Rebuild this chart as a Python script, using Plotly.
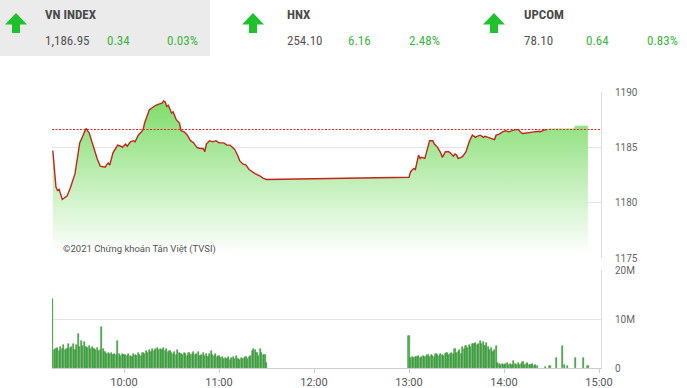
import pandas as pd
import plotly.graph_objects as go

DAY = "2021-03-01 "

# ---------------- header data ----------------
idx_names = ["VN INDEX", "HNX", "UPCOM"]
idx_values = ["1,186.95", "254.10", "78.10"]
idx_changes = ["0.34", "6.16", "0.64"]
idx_pcts = ["0.03%", "2.48%", "0.83%"]

# ---------------- price line data ----------------
price_times = ["09:15", "09:17", "09:18", "09:19", "09:21", "09:24", "09:26", "09:29", "09:32", "09:34",
               "09:36", "09:38", "09:41", "09:43", "09:45", "09:48", "09:50", "09:51", "09:53", "09:55",
               "09:56", "09:58", "09:59", "10:01", "10:02", "10:04", "10:06", "10:07", "10:09", "10:11",
               "10:12", "10:13", "10:15", "10:16", "10:18", "10:20", "10:22", "10:24", "10:25", "10:26",
               "10:27", "10:28", "10:30", "10:31", "10:33", "10:35", "10:36", "10:38", "10:40", "10:42",
               "10:44", "10:46", "10:48", "10:50", "10:51", "10:52", "10:54", "10:56", "10:58", "11:00",
               "11:03", "11:05", "11:07", "11:09", "11:10", "11:12", "11:13", "11:15", "11:17", "11:19",
               "11:21", "11:23", "11:26", "11:28", "11:30",
               "13:00", "13:01", "13:03", "13:04", "13:05", "13:06", "13:07", "13:08", "13:10", "13:12",
               "13:13", "13:15", "13:16", "13:18", "13:20", "13:21", "13:23", "13:25", "13:26", "13:28",
               "13:29", "13:30", "13:31", "13:33", "13:34", "13:36", "13:38", "13:40", "13:42", "13:43",
               "13:45", "13:47", "13:48", "13:50", "13:52", "13:54", "13:55", "13:57", "13:59", "14:01",
               "14:03", "14:05", "14:07", "14:09", "14:11", "14:12", "14:14", "14:17", "14:19", "14:22",
               "14:23", "14:25", "14:27"]
price_values = [1184.7, 1181.4, 1181.1, 1181.2, 1180.3, 1180.6, 1181.3, 1182.6, 1185.4, 1186.1,
                1186.7, 1186.3, 1184.9, 1184.0, 1183.3, 1183.2, 1183.6, 1183.4, 1184.5, 1184.9,
                1185.2, 1185.1, 1185.0, 1185.3, 1185.1, 1185.5, 1185.6, 1185.5, 1186.1, 1186.4,
                1186.6, 1187.2, 1187.9, 1188.4, 1188.6, 1188.8, 1188.9, 1189.0, 1189.2, 1189.1,
                1188.7, 1188.8, 1188.1, 1188.2, 1187.5, 1187.2, 1186.5, 1186.4, 1186.1, 1185.6,
                1185.4, 1185.0, 1184.9, 1184.9, 1184.6, 1185.3, 1185.6, 1185.5, 1185.6, 1185.4,
                1185.4, 1185.2, 1185.2, 1184.9, 1184.8, 1184.2, 1183.8, 1183.5, 1183.4, 1183.0,
                1182.8, 1182.6, 1182.4, 1182.2, 1182.1,
                1182.3, 1182.8, 1183.1, 1183.0, 1183.8, 1184.3, 1184.0, 1184.1, 1184.0, 1185.0,
                1185.6, 1185.6, 1185.3, 1185.0, 1184.5, 1184.1, 1184.6, 1184.6, 1184.5, 1184.2,
                1184.4, 1184.3, 1184.0, 1184.1, 1184.2, 1184.6, 1185.5, 1186.1, 1185.9, 1186.0,
                1186.1, 1185.9, 1186.0, 1185.9, 1185.8, 1185.7, 1186.1, 1186.2, 1186.4, 1186.5,
                1186.4, 1186.5, 1186.6, 1186.6, 1186.3, 1186.25, 1186.3, 1186.4, 1186.4, 1186.45,
                1186.4, 1186.55, 1186.6]
# area continues (no line) until the close
fill_ext_times = ["14:28", "14:44", "14:45", "14:53"]
fill_ext_values = [1186.7, 1186.7, 1186.95, 1186.95]
ref_price = 1186.61

# ---------------- volume data (millions) ----------------
vol_am_start = "09:15"
vol_am = [14.1,
          3.6, 3.9, 4.1, 3.5, 4.3, 3.8, 4.7, 3.6, 3.9, 4.8, 4.0, 4.2, 4.9, 3.7, 4.6,
          7.0, 4.2, 5.6, 4.4, 5.3,
          4.3, 4.0, 4.5, 3.9, 4.2, 3.8, 3.6, 4.1, 3.4, 3.7,
          8.3,
          3.8, 3.3, 2.9, 3.1, 2.8, 3.0, 2.6, 2.9, 2.7,
          5.5,
          2.8, 2.5, 2.9, 2.6,
          2.7, 2.4, 2.8, 2.5, 2.3, 2.9, 2.6, 2.4, 3.0, 2.7, 2.5, 3.1, 2.8, 3.4, 3.0, 3.6, 3.2, 3.9, 3.5, 3.8,
          4.0, 3.6, 3.9, 3.7, 4.1, 3.5, 3.8, 3.2, 3.4, 3.0, 2.8, 3.2, 2.7, 3.6, 3.1,
          2.9, 2.6, 3.0, 2.8, 2.5, 3.1, 2.7, 2.9, 3.3, 2.6, 2.8, 3.2, 2.4, 2.7, 3.0, 2.5, 2.8, 2.3, 2.9, 3.5,
          2.6, 2.4, 2.8, 2.2, 2.5,
          2.0, 2.2, 1.8, 2.1, 1.9, 2.3, 1.7, 2.0, 2.2, 1.8, 2.4, 1.9, 1.7, 2.1, 1.8, 2.0, 2.3, 1.9, 2.2, 2.5,
          3.4, 3.9, 3.6, 3.1, 2.5, 3.8, 3.0, 2.7, 2.6, 1.0]
vol_pm_start = "13:00"
vol_pm = [6.6,
          2.0, 2.2, 2.1, 2.3, 2.2, 2.4, 2.1, 2.3, 2.5, 2.2,
          2.4, 2.6, 2.3, 2.7, 2.5, 2.2, 2.8, 2.6, 2.4, 2.9, 2.7, 2.5, 2.8, 3.0, 2.6,
          2.9, 3.1, 2.8, 3.9, 3.0, 3.3, 3.6, 2.9, 4.2, 3.8,
          4.4, 4.1, 4.7, 4.3, 5.0, 4.8, 5.2, 4.6, 5.0, 5.6, 4.9, 5.3, 4.5, 5.1, 4.2, 3.6, 4.0, 3.3, 3.7, 4.4,
          1.0, 0.8, 0.7, 0.9, 0.6, 0.8, 1.1, 0.7, 0.9, 0.6, 1.4, 0.8, 0.7, 1.0, 0.6, 0.9, 1.2, 0.7, 0.8, 1.0,
          0.6, 0.7, 0.9, 0.5, 0.6, 0.4]
vol_late_times = ["14:26", "14:29", "14:33", "14:37", "14:38", "14:40", "14:45", "14:50", "14:53"]
vol_late = [0.3, 0.4, 2.0, 4.4, 0.6, 0.5, 2.0, 2.0, 0.5]

copyright_text = "©2021 Chứng khoán Tân Việt (TVSI)"

# ---------------- build series ----------------
def ts(hm):
    return pd.Timestamp(DAY + hm)

p_x = [ts(t) for t in price_times]
f_x = p_x + [ts(t) for t in fill_ext_times]
f_y = price_values + fill_ext_values

v_x = list(pd.date_range(ts(vol_am_start), periods=len(vol_am), freq="min")) + \
      list(pd.date_range(ts(vol_pm_start), periods=len(vol_pm), freq="min")) + \
      [ts(t) for t in vol_late_times]
v_y = [v * 1e6 for v in vol_am + vol_pm + vol_late]

W, H = 687, 388
def px(x):
    return x / W
def py(y):
    return 1 - y / H

GREEN_TXT = "#3bb53b"
GRAY_TXT = "#555555"
ARROW = "#1fc12c"
GRID = "#e3e3e3"

x_range = [DAY + "09:14:30", DAY + "15:01:15"]
xdom = [px(52), px(601)]

fig = go.Figure()

fig.add_trace(go.Scatter(
    x=f_x, y=f_y, mode="lines", line=dict(width=0, color="rgba(0,0,0,0)"),
    fill="tozeroy",
    fillgradient=dict(type="vertical", start=1175.3, stop=1189.3,
                      colorscale=[[0, "rgba(255,255,255,1)"], [1, "rgb(125,220,105)"]]),
    xaxis="x2", yaxis="y2", hoverinfo="skip", showlegend=False))

# reference (previous close) line
fig.add_trace(go.Scatter(
    x=x_range, y=[ref_price, ref_price], mode="lines",
    line=dict(width=1.2, color="#e3261b", dash="2px,1.5px"),
    xaxis="x2", yaxis="y2", hoverinfo="skip", showlegend=False))

fig.add_trace(go.Scatter(
    x=p_x, y=price_values, mode="lines", line=dict(width=1.4, color="#c0261c"),
    xaxis="x2", yaxis="y2", showlegend=False))

fig.add_trace(go.Bar(
    x=v_x, y=v_y, width=45000,
    marker=dict(color="#55b855", line=dict(color="#2f8a2f", width=0.6)),
    xaxis="x", yaxis="y", showlegend=False))

fig.update_layout(
    autosize=True, margin=dict(l=0, r=0, t=0, b=0, autoexpand=False),
    paper_bgcolor="white", plot_bgcolor="white",
    font=dict(family="Roboto, Arial, sans-serif", color=GRAY_TXT),
    bargap=0,
    xaxis=dict(domain=xdom, range=x_range, type="date", anchor="y",
               tickformat="%H:%M", tick0=DAY + "10:00", dtick=3600000,
               showgrid=False, showline=True, linecolor="#cccccc", linewidth=1,
               ticks="outside", ticklen=4, tickcolor="#cccccc",
               tickfont=dict(size=11, color=GRAY_TXT), zeroline=False),
    yaxis=dict(domain=[py(368), py(270)], range=[0, 20e6], side="right", anchor="x",
               tickvals=[0, 10e6, 20e6], ticktext=["0", "10M", "20M"],
               showgrid=True, gridcolor=GRID, showline=True, linecolor="#dddddd",
               ticks="", ticklabelstandoff=11, zeroline=False,
               tickfont=dict(size=10, color="#666666")),
    xaxis2=dict(domain=xdom, range=x_range, type="date", anchor="y2", matches="x",
                showticklabels=False, showgrid=False, showline=False, ticks="", zeroline=False),
    yaxis2=dict(domain=[py(258), py(92)], range=[1175, 1190], side="right", anchor="x2",
                tickvals=[1175, 1180, 1185, 1190], showgrid=True, gridcolor=GRID,
                showline=True, linecolor="#dddddd", ticks="", ticklabelstandoff=11,
                zeroline=False, tickfont=dict(size=10, color="#666666")),
)

shapes = []
shapes.append(dict(type="rect", xref="paper", yref="paper", x0=0, x1=px(210), y0=py(56), y1=1,
                   fillcolor="#ebebeb", line=dict(width=0), layer="below"))
for cx in [16, 253, 494]:
    pts = [(cx, 13), (cx + 11, 24.5), (cx + 4, 24.5), (cx + 4, 33), (cx - 4, 33), (cx - 4, 24.5), (cx - 11, 24.5)]
    path = "M " + " L ".join(f"{px(a):.5f},{py(b):.5f}" for a, b in pts) + " Z"
    shapes.append(dict(type="path", xref="paper", yref="paper", path=path,
                       fillcolor=ARROW, line=dict(width=0)))
fig.update_layout(shapes=shapes)

ann = []
name_x = [43, 285, 522]
chg_x = [105, 346, 584]
pct_x = [200, 442, 680]
HFONT = "Roboto Condensed, Liberation Sans Narrow, Arial Narrow, Roboto, sans-serif"
for i in range(3):
    ann.append(dict(x=px(name_x[i]), y=py(15), xref="paper", yref="paper", text=f"<b>{idx_names[i]}</b>",
                    showarrow=False, xanchor="left", yanchor="middle",
                    font=dict(family=HFONT, size=13, color="#4a4a4a")))
    ann.append(dict(x=px(name_x[i]), y=py(41), xref="paper", yref="paper", text=idx_values[i],
                    showarrow=False, xanchor="left", yanchor="middle",
                    font=dict(family=HFONT, size=13, color=GRAY_TXT)))
    ann.append(dict(x=px(chg_x[i]), y=py(41), xref="paper", yref="paper", text=idx_changes[i],
                    showarrow=False, xanchor="left", yanchor="middle",
                    font=dict(family=HFONT, size=13, color=GREEN_TXT)))
    ann.append(dict(x=px(pct_x[i]), y=py(41), xref="paper", yref="paper", text=idx_pcts[i],
                    showarrow=False, xanchor="right", yanchor="middle",
                    font=dict(family=HFONT, size=13, color=GREEN_TXT)))
ann.append(dict(x=px(61), y=py(249), xref="paper", yref="paper", text=copyright_text,
                showarrow=False, xanchor="left", yanchor="middle",
                font=dict(size=9.5, color="#555555")))
fig.update_layout(annotations=ann)

post = ("document.documentElement.style.margin='0';document.body.style.margin='0';"
        "document.documentElement.style.overflow='hidden';document.body.style.overflow='hidden';"
        "Plotly.Plots.resize(document.getElementById('{plot_id}'));")
fig.write_html("out.html", default_width="100vw", default_height="100vh",
               config={"responsive": True, "displayModeBar": False}, post_script=post)
